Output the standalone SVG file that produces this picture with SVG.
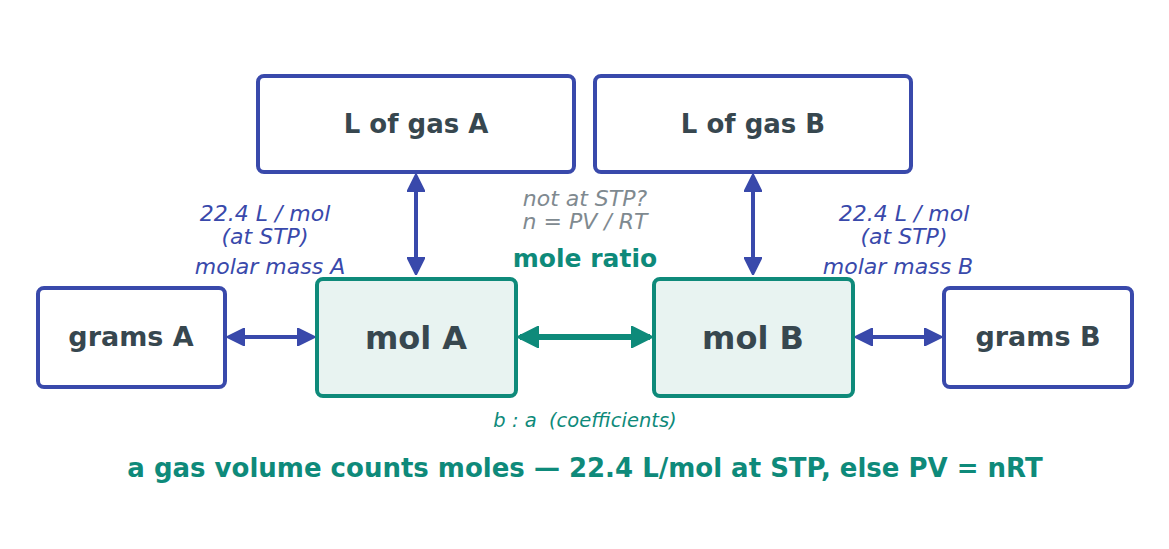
<svg xmlns="http://www.w3.org/2000/svg" width="1169" height="549" viewBox="0 0 1169 549">
<style>
text{font-family:"DejaVu Sans","Liberation Sans",sans-serif;text-anchor:middle}
.bx{fill:#fff;stroke:#3949ab;stroke-width:4}
.mx{fill:#e8f3f1;stroke:#0e8a7a;stroke-width:4}
.lbl{font-weight:bold;fill:#37474f;font-size:26px}
.gm{font-weight:bold;fill:#37474f;font-size:27px}
.big{font-weight:bold;fill:#37474f;font-size:32px}
.bl{font-style:italic;fill:#3949ab;font-size:22px}
.gr{font-style:italic;fill:#7f8a90;font-size:22px}
.cb{stroke:#3949ab;stroke-width:4;fill:none}
.ct{stroke:#0e8a7a;stroke-width:6;fill:none}
</style>
<defs>
<marker id="ab" viewBox="0 0 10 10" refX="9" refY="5" markerWidth="4.5" markerHeight="4.5" orient="auto-start-reverse" markerUnits="strokeWidth"><path d="M0,0 L10,5 L0,10 z" fill="#3949ab" stroke="#3949ab" stroke-linejoin="round"/></marker>
<marker id="at" viewBox="0 0 10 10" refX="9" refY="5" markerWidth="3.6" markerHeight="3.6" orient="auto-start-reverse" markerUnits="strokeWidth"><path d="M0,0 L10,5 L0,10 z" fill="#0e8a7a" stroke="#0e8a7a" stroke-linejoin="round"/></marker>
</defs>
<g id="connectors">
<line class="cb" x1="416" y1="176" x2="416" y2="273" marker-start="url(#ab)" marker-end="url(#ab)"/>
<line class="cb" x1="753" y1="176" x2="753" y2="273" marker-start="url(#ab)" marker-end="url(#ab)"/>
<line class="cb" x1="229" y1="337" x2="313" y2="337" marker-start="url(#ab)" marker-end="url(#ab)"/>
<line class="cb" x1="857" y1="337" x2="940" y2="337" marker-start="url(#ab)" marker-end="url(#ab)"/>
<line class="ct" x1="520" y1="337" x2="650" y2="337" marker-start="url(#at)" marker-end="url(#at)"/>
</g>
<g id="gasA"><rect class="bx" x="258" y="76" width="316" height="96" rx="6"/><text class="lbl" x="416" y="133">L of gas A</text></g>
<g id="gasB"><rect class="bx" x="595" y="76" width="316" height="96" rx="6"/><text class="lbl" x="753" y="133">L of gas B</text></g>
<g id="gramsA"><rect class="bx" x="38" y="288" width="187" height="99" rx="6"/><text class="gm" x="131" y="346">grams A</text></g>
<g id="gramsB"><rect class="bx" x="944" y="288" width="188" height="99" rx="6"/><text class="gm" x="1038" y="346">grams B</text></g>
<g id="molA"><rect class="mx" x="317" y="279" width="199" height="117" rx="6"/><text class="big" x="416" y="349">mol A</text></g>
<g id="molB"><rect class="mx" x="654" y="279" width="199" height="117" rx="6"/><text class="big" x="753" y="349">mol B</text></g>
<g id="labels">
<text class="bl" x="265" y="221">22.4 L / mol</text>
<text class="bl" x="265" y="244">(at STP)</text>
<text class="bl" x="270" y="274">molar mass A</text>
<text class="bl" x="904" y="221">22.4 L / mol</text>
<text class="bl" x="904" y="244">(at STP)</text>
<text class="bl" x="898" y="274">molar mass B</text>
<text class="gr" x="585" y="206">not at STP?</text>
<text class="gr" x="585" y="229">n = PV / RT</text>
<text x="585" y="267" style="font-weight:bold;fill:#0e8a7a;font-size:25px">mole ratio</text>
<text x="585" y="427" xml:space="preserve" style="font-style:italic;fill:#0e8a7a;font-size:19.5px;white-space:pre">b : a  (coefficients)</text>
<text x="585" y="477" style="font-weight:bold;fill:#0e8a7a;font-size:26px">a gas volume counts moles — 22.4 L/mol at STP, else PV = nRT</text>
</g>
</svg>
